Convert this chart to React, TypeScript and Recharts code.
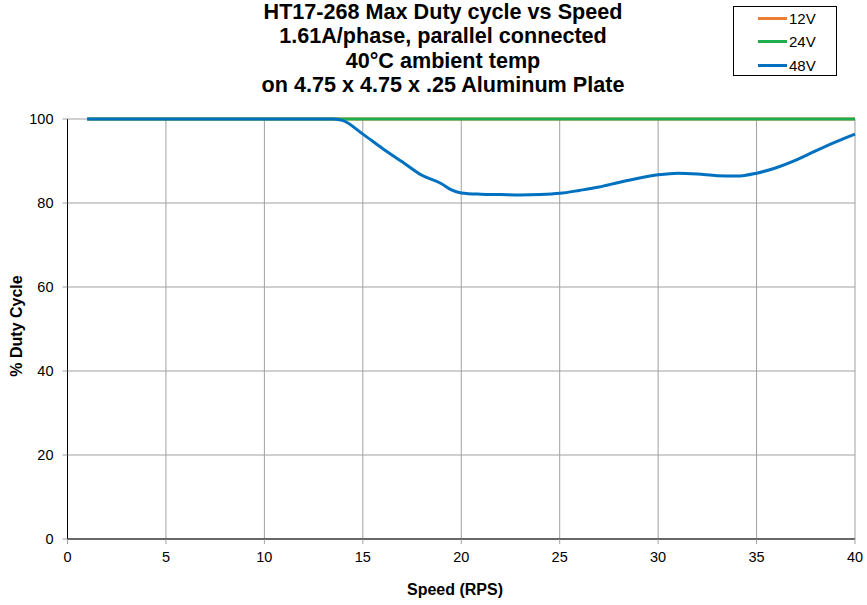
import React from 'react';
import { CartesianGrid, Legend, Line, LineChart, XAxis, YAxis } from 'recharts';

const FONT = "Arial, 'Liberation Sans', sans-serif";

const titleLines = [
  'HT17-268 Max Duty cycle vs Speed',
  '1.61A/phase, parallel connected',
  '40°C ambient temp',
  'on 4.75 x 4.75 x .25 Aluminum Plate',
];

// speed (RPS) samples
const speeds = [1, 13.5, 14, 15, 16, 17, 18, 19, 19.5, 20, 21, 22, 23, 24, 25, 26, 27, 28, 29, 30, 31, 32, 33, 34, 35, 36, 37, 38, 39, 40];
const v12 = [100, 100, 100, 100, 100, 100, 100, 100, 100, 100, 100, 100, 100, 100, 100, 100, 100, 100, 100, 100, 100, 100, 100, 100, 100, 100, 100, 100, 100, 100];
const v24 = [100, 100, 100, 100, 100, 100, 100, 100, 100, 100, 100, 100, 100, 100, 100, 100, 100, 100, 100, 100, 100, 100, 100, 100, 100, 100, 100, 100, 100, 100];
const v48 = [100, 100, 99.6, 96.4, 93, 89.8, 86.6, 84.6, 83.1, 82.4, 82.1, 82, 81.9, 82, 82.3, 83, 83.8, 84.9, 85.9, 86.7, 87.1, 86.9, 86.5, 86.4, 87.1, 88.4, 90.2, 92.4, 94.5, 96.4];

const xTicks = [0, 5, 10, 15, 20, 25, 30, 35, 40];
const yTicks = [0, 20, 40, 60, 80, 100];

const series = [
  { key: 'v12', name: '12V', color: '#ED7D31' },
  { key: 'v24', name: '24V', color: '#1DAF4E' },
  { key: 'v48', name: '48V', color: '#0070C0' },
];

const rows = speeds.map((s, i) => ({ speed: s, v12: v12[i], v24: v24[i], v48: v48[i] }));

function LegendBox({ payload }: any) {
  return (
    <div style={{ width: 104, height: 70, border: '1px solid #000', background: '#fff', boxSizing: 'border-box', fontFamily: FONT, fontSize: 15, color: '#000' }}>
      {(payload || []).map((p: any, i: number) => (
        <div key={p.value} style={{ position: 'absolute', left: 25, top: 3 + i * 23.5, height: 18, display: 'flex', alignItems: 'center' }}>
          <span style={{ display: 'inline-block', width: 29, height: 3, background: p.color }} />
          <span style={{ marginLeft: 2 }}>{p.value}</span>
        </div>
      ))}
    </div>
  );
}

export default function App() {
  const tickStyle = { fill: '#000', fontSize: 14.5, fontFamily: FONT };
  return (
    <div style={{ position: 'absolute', left: 0, top: 0, width: 867, height: 605, background: '#fff', fontFamily: FONT }}>
      <div style={{ position: 'absolute', left: 143, top: 0, width: 600, textAlign: 'center', fontWeight: 'bold', fontSize: 21.6, lineHeight: '24.3px', color: '#000' }}>
        {titleLines.map((t) => (
          <div key={t}>{t}</div>
        ))}
      </div>
      <LineChart width={867} height={605} data={rows} margin={{ top: 119, right: 12, bottom: 0, left: 0 }}>
        <CartesianGrid stroke="#a0a0a0" />
        <XAxis
          dataKey="speed"
          type="number"
          domain={[0, 40]}
          ticks={xTicks}
          height={66}
          tick={tickStyle}
          tickSize={5}
          tickMargin={8}
          tickLine={{ stroke: '#a0a0a0' }}
          axisLine={{ stroke: '#000' }}
        />
        <YAxis
          type="number"
          domain={[0, 100]}
          ticks={yTicks}
          width={67.5}
          tick={tickStyle}
          tickSize={5}
          tickMargin={9}
          tickLine={{ stroke: '#a0a0a0' }}
          axisLine={{ stroke: '#000' }}
        />
        <Legend
          layout="horizontal"
          verticalAlign="middle"
          align="center"
          wrapperStyle={{ top: 6, left: 733, width: 104, height: 70 }}
          content={<LegendBox />}
        />
        {series.map((s) => (
          <Line
            key={s.key}
            dataKey={s.key}
            name={s.name}
            type="monotone"
            stroke={s.color}
            strokeWidth={3}
            dot={false}
            activeDot={false}
            isAnimationActive={false}
          />
        ))}
      </LineChart>
      <div style={{ position: 'absolute', left: 355, top: 581, width: 200, textAlign: 'center', fontWeight: 'bold', fontSize: 16, color: '#000' }}>Speed (RPS)</div>
      <div style={{ position: 'absolute', left: 17, top: 326, transform: 'translate(-50%, -50%) rotate(-90deg)', whiteSpace: 'nowrap', fontWeight: 'bold', fontSize: 16, color: '#000' }}>% Duty Cycle</div>
    </div>
  );
}
